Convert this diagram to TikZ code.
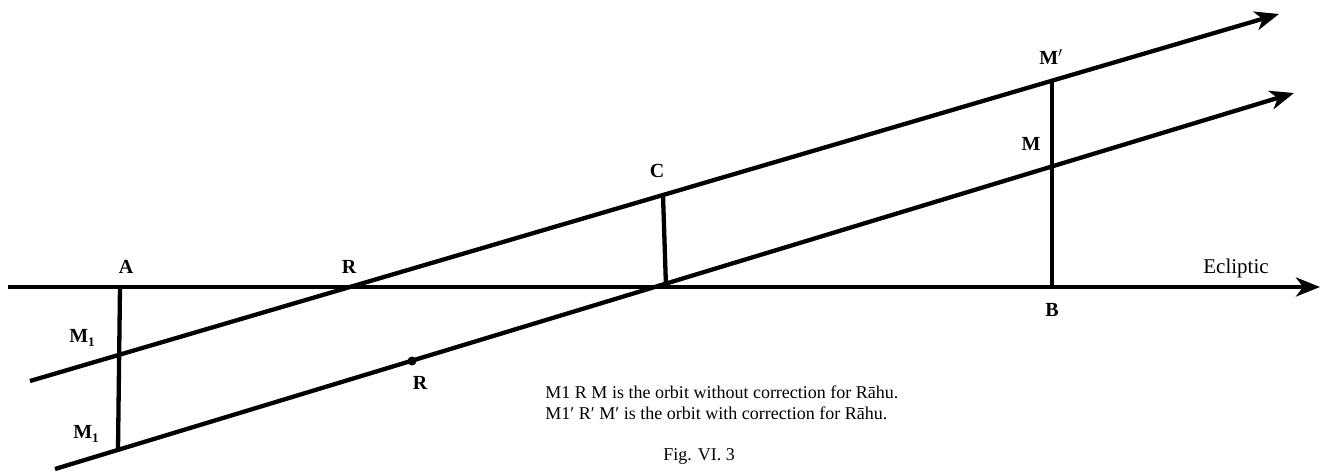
\documentclass[tikz,border=0pt]{standalone}
\usepackage{fontspec}
\setmainfont{Liberation Serif}
\usetikzlibrary{arrows.meta}
\begin{document}
\begin{tikzpicture}[x=1pt,y=-1pt,line width=4.3pt,
  lbl/.style={font=\fontsize{20}{24}\selectfont\bfseries},
  txt/.style={font=\fontsize{18}{21}\selectfont},
  ax/.style={-{Stealth[length=24pt,width=19pt,inset=7pt]}}]
\useasboundingbox (0,0) rectangle (1325,473);
% ecliptic
\coordinate (e0) at (8,287);
\coordinate (e1) at (1320,287);
% orbit without correction
\coordinate (u0) at (30,381);
\coordinate (u1) at (1279,14);
% orbit with correction
\coordinate (w0) at (55,469);
\coordinate (w1) at (1294,93);
% points on the lines
\coordinate (A) at (120,287);
\coordinate (Mlo) at (118,450);
\coordinate (Ctop) at (663,195);
\coordinate (Cbot) at (666,287);
\coordinate (Mp) at (1052,81);
\coordinate (B) at (1052,287);
\coordinate (Rdot) at (412,361);
\draw[ax] (e0) -- (e1);
\draw[ax] (u0) -- (u1);
\draw[ax] (w0) -- (w1);
\draw (A) -- (Mlo);
\draw (Ctop) -- (Cbot);
\draw (Mp) -- (B);
\fill (Rdot) circle (4.5pt);
% labels
\node[lbl] (la) at (126,267) {A};
\node[lbl] (lr) at (349,267) {R};
\node[lbl] (lc) at (657,171) {C};
\node[lbl] (lmp) at (1051,57) {M$'$};
\node[lbl] (lm) at (1031,144) {M};
\node[lbl] (lb) at (1052,310) {B};
\node[lbl] (lm1) at (82,338) {M\raisebox{-4pt}{\fontsize{13}{15}\selectfont 1}};
\node[lbl] (lm2) at (86,434) {M\raisebox{-4pt}{\fontsize{13}{15}\selectfont 1}};
\node[lbl] (lr2) at (420,383) {R};
\node[font=\fontsize{21}{24}\selectfont] (lec) at (1236,268) {Ecliptic};
\node[txt, align=left, anchor=west] (note) at (540,403) {M1 R M is the orbit without correction for Rāhu.\\M1′ R′ M′ is the orbit with correction for Rāhu.};
\node[txt] (fig) at (699,456) {Fig. VI. 3};
\end{tikzpicture}
\end{document}
